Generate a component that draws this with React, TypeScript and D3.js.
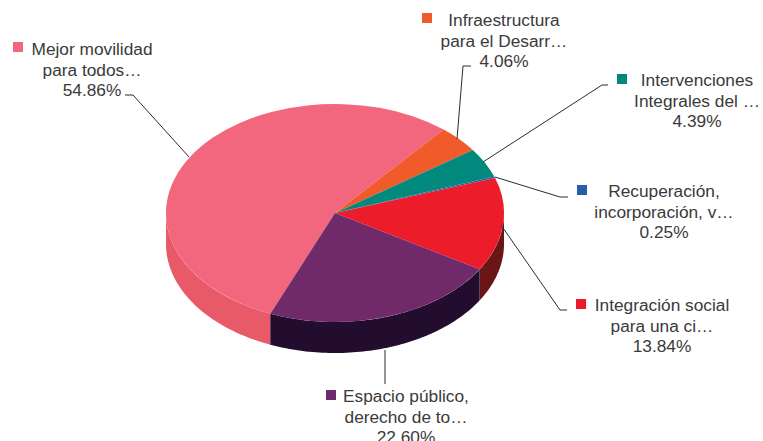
import React from 'react';
import * as d3 from 'd3';

const categories = [
  ['Mejor movilidad', 'para todos…'],
  ['Infraestructura', 'para el Desarr…'],
  ['Intervenciones', 'Integrales del …'],
  ['Recuperación,', 'incorporación, v…'],
  ['Integración social', 'para una ci…'],
  ['Espacio público,', 'derecho de to…'],
];
const values = [54.86, 4.06, 4.39, 0.25, 13.84, 22.6];
const topColors = ['#f2667e', '#f15a29', '#00897b', '#2b5ca8', '#ed1c2a', '#6f2a6b'];
const wallColors = ['#e95a69', '#b8401f', '#005c52', '#1b3c70', '#6a1318', '#24082d'];

// where the callouts sit: text centre, first baseline, legend square, elbow points
const labelLayout = [
  { cx: 92, y: 55, sq: [13, 42], line: [[189, 157], [133, 95], [125, 95]] },
  { cx: 504, y: 26, sq: [422, 13], line: [[457, 139], [463, 66], [471, 66]] },
  { cx: 697, y: 86, sq: [617, 74], line: [[483, 162], [602, 85], [608, 85]] },
  { cx: 664, y: 197, sq: [577, 185], line: [[495, 177], [560, 197], [568, 197]] },
  { cx: 662, y: 311, sq: [576, 299], line: [[501, 225], [560, 310], [567, 310]] },
  { cx: 406, y: 402, sq: [326, 390], line: [[385, 350], [385, 384]] },
];

const width = 763;
const height = 441;
const cx = 335;
const cy = 213;
const rx = 169;
const ry = 109;
const depth = 31;
const startDeg = -157.5;

const pie = d3
  .pie<number>()
  .sort(null)
  .startAngle((startDeg * Math.PI) / 180)
  .endAngle(((startDeg + 360) * Math.PI) / 180);
const arcs = pie(values);

const topArc = d3.arc<d3.PieArcDatum<number>>().innerRadius(0).outerRadius(rx);

// side wall of one slice, only the part facing us (90deg..270deg clockwise from top)
function wallPath(a: d3.PieArcDatum<number>) {
  const out: string[] = [];
  const line = d3.line();
  for (const shift of [0, -2 * Math.PI]) {
    const s = Math.max(a.startAngle - shift, Math.PI / 2);
    const e = Math.min(a.endAngle - shift, (3 * Math.PI) / 2);
    if (e <= s) continue;
    const angles = d3.range(s, e, 0.02).concat(e);
    const edge = angles.map((t) => [rx * Math.sin(t), -ry * Math.cos(t)] as [number, number]);
    const lower = edge.map(([x, y]) => [x, y + depth] as [number, number]).reverse();
    out.push((line(edge.concat(lower)) as string) + 'Z');
  }
  return out.join('');
}

export default function App() {
  return (
    <svg
      width={width}
      height={height}
      style={{ position: 'absolute', left: 0, top: 0, background: '#fff' }}
      fontFamily="'Liberation Sans', Arial, sans-serif"
    >
      <defs>
        <filter id="soft" x="-5%" y="-5%" width="110%" height="110%">
          <feGaussianBlur stdDeviation="0.5" />
        </filter>
      </defs>
      <g transform={`translate(${cx},${cy})`} filter="url(#soft)">
        {arcs.map((a, i) => (
          <path key={i} d={wallPath(a)} fill={wallColors[i]} />
        ))}
        <g transform={`scale(1,${ry / rx})`}>
          {arcs.map((a, i) => (
            <path key={i} d={topArc(a) as string} fill={topColors[i]} />
          ))}
        </g>
      </g>
      {labelLayout.map((l, i) => (
        <g key={i}>
          <path
            d={d3.line()(l.line as [number, number][]) as string}
            fill="none"
            stroke="#2b2b2b"
            strokeWidth={1}
          />
          <rect x={l.sq[0]} y={l.sq[1]} width={10} height={10} fill={topColors[i]} />
          <text textAnchor="middle" fontSize={17.3} fill="#3a3a3a">
            {categories[i].map((t, j) => (
              <tspan key={j} x={l.cx} y={l.y + j * 20.5}>
                {t}
              </tspan>
            ))}
            <tspan x={l.cx} y={l.y + 41}>
              {values[i].toFixed(2)}%
            </tspan>
          </text>
        </g>
      ))}
    </svg>
  );
}
